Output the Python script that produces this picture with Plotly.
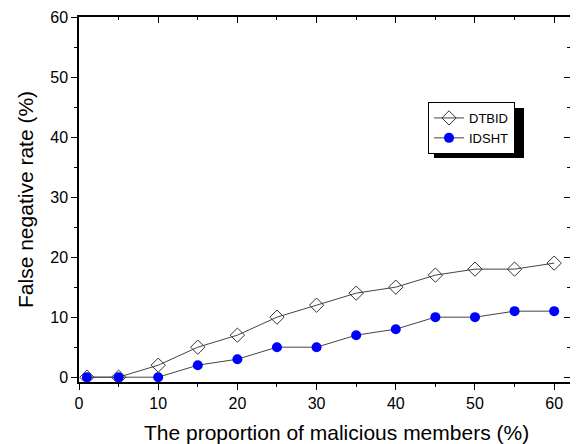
import plotly.graph_objects as go

x_vals = [1, 5, 10, 15, 20, 25, 30, 35, 40, 45, 50, 55, 60]
dtbid = [0, 0, 2, 5, 7, 10, 12, 14, 15, 17, 18, 18, 19]
idsht = [0, 0, 0, 2, 3, 5, 5, 7, 8, 10, 10, 11, 11]
tick_major = [0, 10, 20, 30, 40, 50, 60]
tick_minor = [5, 15, 25, 35, 45, 55]

OFF = 8  # page body margin
W, H = 578 - OFF, 444 - OFF
# plot area in page pixels: left 79, right 570, top 17, bottom 382
L, T = 79 - OFF, 17 - OFF
R, B = 578 - 570, 444 - 382
pw, ph = W - L - R, H - T - B


def px(xp):
    return (xp - 79) / pw


def py(yp):
    return 1 - (yp - 17) / ph


fig = go.Figure()
fig.add_trace(go.Scatter(x=x_vals, y=dtbid, name="DTBID", mode="lines+markers",
                         line=dict(color="#444444", width=1),
                         marker=dict(symbol="diamond-open", size=11, color="#333333", line=dict(width=1))))
fig.add_trace(go.Scatter(x=x_vals, y=idsht, name="IDSHT", mode="lines+markers",
                         line=dict(color="#444444", width=1),
                         marker=dict(symbol="circle", size=10, color="#0000ff")))
fig.add_trace(go.Scatter(x=[0], y=[0], xaxis="x2", yaxis="y2", showlegend=False,
                         mode="markers", marker=dict(opacity=0), hoverinfo="skip"))

axis_common = dict(showgrid=False, zeroline=False, showline=True, linecolor="black", linewidth=1.5,
                   tickfont=dict(family="Arial", size=16, color="black"), ticklen=6, tickwidth=1.2,
                   tickcolor="black", automargin=False)
mirror_common = dict(showticklabels=False, showgrid=False, zeroline=False, showline=True, linecolor="black",
                     linewidth=1.5, ticklen=6, tickwidth=1.2, tickcolor="black", automargin=False,
                     tickvals=tick_major, ticks="inside",
                     minor=dict(tickvals=tick_minor, ticks="inside", ticklen=3, tickcolor="black"))
fig.update_layout(
    width=W, height=H, margin=dict(l=L, r=R, t=T, b=B),
    plot_bgcolor="white", paper_bgcolor="white",
    xaxis=dict(range=[0, 62], tickmode="array", tickvals=tick_major, ticks="outside",
               minor=dict(tickvals=tick_minor, ticks="outside", ticklen=3, tickcolor="black"),
               **axis_common),
    yaxis=dict(range=[-0.8, 60], tickmode="array", tickvals=tick_major, ticks="outside",
               minor=dict(tickvals=tick_minor, ticks="outside", ticklen=3, tickcolor="black"),
               **axis_common),
    xaxis2=dict(range=[0, 62], overlaying="x", side="top", **mirror_common),
    yaxis2=dict(range=[-0.8, 60], overlaying="y", side="right", **mirror_common),
    legend=dict(x=px(428), y=py(102), xanchor="left", yanchor="top",
                bgcolor="white", bordercolor="black", borderwidth=1,
                font=dict(family="Arial", size=13, color="black"),
                itemwidth=30, tracegroupgap=0),
    showlegend=True,
)
fig.add_annotation(text="The proportion of malicious members (%)", xref="paper", yref="paper",
                   x=px(336), y=py(432), showarrow=False,
                   font=dict(family="Arial", size=21, color="black"), xanchor="center", yanchor="middle")
fig.add_annotation(text="False negative rate (%)", xref="paper", yref="paper",
                   x=px(25), y=py(200), showarrow=False, textangle=-90,
                   font=dict(family="Arial", size=21, color="black"), xanchor="center", yanchor="middle")
fig.add_shape(type="rect", xref="paper", yref="paper", layer="above",
              x0=px(434), x1=px(524), y0=py(158), y1=py(108),
              fillcolor="black", line=dict(width=0))

fig.write_html("out.html")
